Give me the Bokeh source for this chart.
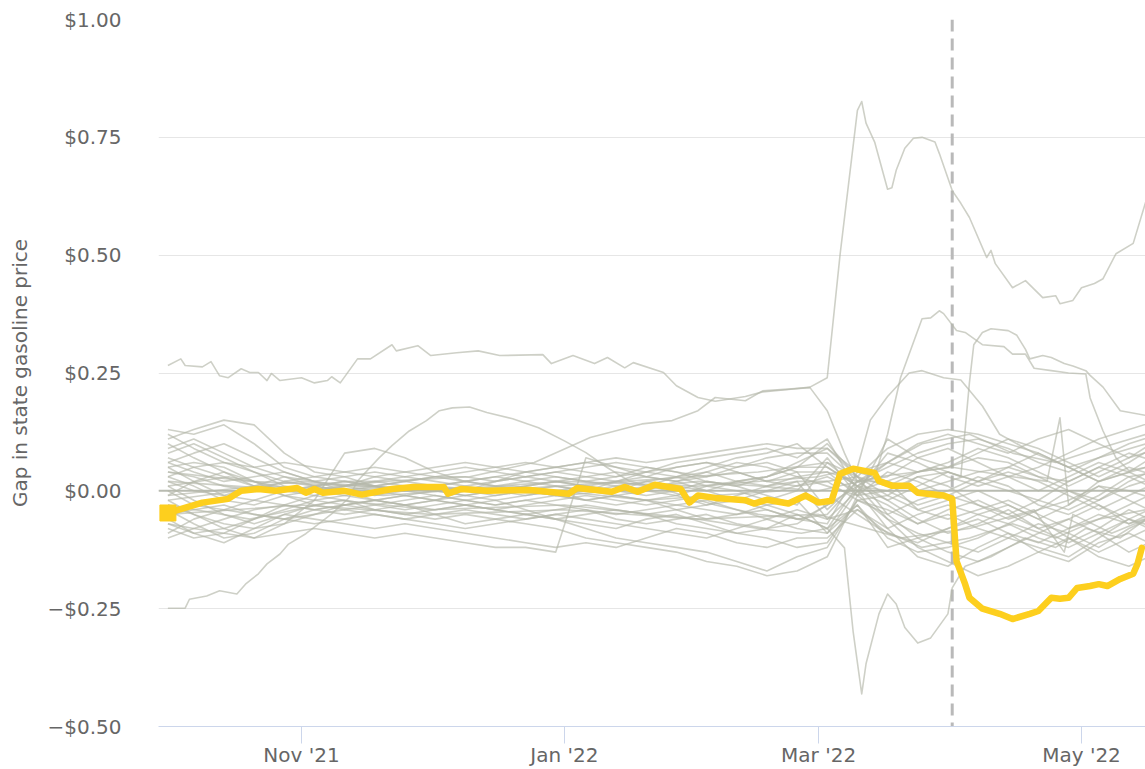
from datetime import datetime
import pandas as pd
from bokeh.plotting import figure
from bokeh.models import (Range1d, FixedTicker, DatetimeTickFormatter,
                          CustomJSTickFormatter, Span)
from bokeh.embed import file_html
from bokeh.resources import INLINE

# ---------------- data ----------------
weekly_dates = ["2021-10-01", "2021-10-07", "2021-10-14", "2021-10-21", "2021-10-28",
                "2021-11-04", "2021-11-11", "2021-11-18", "2021-11-25",
                "2021-12-02", "2021-12-09", "2021-12-16", "2021-12-23", "2021-12-30",
                "2022-01-06", "2022-01-13", "2022-01-20", "2022-01-27",
                "2022-02-03", "2022-02-10", "2022-02-17", "2022-02-24",
                "2022-03-03", "2022-03-10", "2022-03-17", "2022-03-24", "2022-03-31",
                "2022-04-07", "2022-04-14", "2022-04-21", "2022-04-28",
                "2022-05-05", "2022-05-12", "2022-05-19"]

state_01 = [0.13,0.12,0.14,0.10,0.05, 0.03,0.02,0.02,0.03, 0.02,0.01,0.02,0.03,0.04, 0.03,0.02,0.03,0.05, 0.06,0.05,0.07,0.08, 0.08,0.02,0.05,0.08,0.10, 0.11,0.09,0.06,0.04, 0.07,0.10,0.12]
state_02 = [0.11,0.13,0.15,0.14,0.08, 0.04,0.03,0.01,0.00, 0.01,0.02,0.03,0.02,0.01, 0.00,0.02,0.01,0.03, 0.04,0.02,0.03,0.06, 0.09,0.03,0.09,0.12,0.13, 0.12,0.10,0.08,0.05, 0.02,0.04,0.08]
state_03 = [0.08,0.10,0.07,0.04,0.02, 0.01,0.00,0.01,0.02, 0.03,0.03,0.02,0.04,0.05, 0.04,0.03,0.05,0.04, 0.02,0.01,0.03,0.05, 0.05,0.01,0.06,0.04,0.05, 0.07,0.06,0.03,0.02, 0.05,0.08,0.06]
state_04 = [0.06,0.04,0.02,0.03,0.04, 0.02,0.03,0.04,0.03, 0.04,0.05,0.04,0.03,0.04, 0.05,0.06,0.05,0.04, 0.03,0.05,0.06,0.04, -0.04,0.02,0.02,0.00,0.02, 0.04,0.05,0.03,0.00, -0.02,0.02,0.05]
state_05 = [0.05,0.06,0.05,0.02,0.00, -0.01,0.01,0.02,0.01, 0.00,-0.01,0.00,0.01,0.02, 0.01,0.00,0.02,0.01, 0.00,0.02,0.01,0.03, 0.04,-0.01,0.00,0.03,0.04, 0.02,0.00,-0.02,-0.04, -0.01,0.03,0.04]
state_06 = [0.03,0.01,-0.02,-0.03,-0.01, 0.00,-0.01,-0.02,-0.01, 0.00,0.01,0.00,-0.01,0.00, -0.02,-0.01,0.00,-0.01, -0.03,-0.02,0.00,0.02, -0.06,0.00,-0.08,-0.05,-0.03, -0.05,-0.07,-0.04,-0.02, 0.01,0.00,-0.02]
state_07 = [0.01,-0.02,-0.05,-0.07,-0.05, -0.03,-0.02,-0.03,-0.04, -0.03,-0.02,-0.03,-0.02,-0.01, -0.02,-0.03,-0.02,-0.03, -0.04,-0.05,-0.03,-0.02, -0.09,-0.03,-0.12,-0.10,-0.08, -0.06,-0.09,-0.11,-0.08, -0.05,-0.07,-0.04]
state_08 = [-0.02,-0.05,-0.08,-0.10,-0.07, -0.05,-0.04,-0.05,-0.06, -0.05,-0.04,-0.05,-0.06,-0.05, -0.04,-0.06,-0.07,-0.06, -0.05,-0.07,-0.08,-0.05, -0.08,0.01,-0.06,-0.09,-0.11, -0.13,-0.10,-0.12,-0.14, -0.10,-0.06,-0.03]
state_09 = [-0.04,-0.07,-0.10,-0.09,-0.06, -0.04,-0.03,-0.02,-0.03, -0.04,-0.03,-0.02,-0.04,-0.06, -0.08,-0.10,-0.11,-0.12, -0.13,-0.15,-0.17,-0.14, -0.12,-0.02,-0.04,-0.07,-0.05, -0.08,-0.10,-0.07,-0.09, -0.12,-0.08,-0.05]
state_10 = [-0.06,-0.09,-0.11,-0.08,-0.05, -0.06,-0.07,-0.08,-0.07, -0.08,-0.09,-0.10,-0.11,-0.12, -0.11,-0.12,-0.10,-0.08, -0.09,-0.11,-0.12,-0.10, -0.10,-0.04,-0.08,-0.14,-0.16, -0.12,-0.09,-0.13,-0.15, -0.11,-0.09,-0.12]
state_11 = [-0.08,-0.10,-0.09,-0.06,-0.04, -0.02,-0.01,0.00,0.01, 0.00,-0.01,-0.02,-0.01,0.00, 0.01,0.00,-0.01,0.00, 0.02,0.01,-0.01,-0.03, 0.06,0.03,-0.05,-0.02,0.00, 0.03,0.01,-0.03,-0.05, -0.02,0.01,0.03]
state_12 = [-0.10,-0.08,-0.06,-0.04,-0.03, -0.04,-0.05,-0.04,-0.03, -0.02,-0.03,-0.04,-0.03,-0.02, -0.01,-0.02,-0.03,-0.02, -0.01,-0.02,-0.04,-0.06, -0.07,0.04,0.02,-0.04,-0.06, -0.04,-0.02,-0.05,-0.08, -0.06,-0.03,0.00]
state_13 = [0.04,0.03,0.01,0.00,0.02, 0.03,0.04,0.05,0.04, 0.03,0.02,0.03,0.04,0.03, 0.02,0.01,0.02,0.03, 0.01,0.00,-0.02,0.00, 0.07,-0.01,0.11,0.07,0.05, 0.08,0.11,0.09,0.06, 0.03,0.06,0.10]
state_14 = [0.02,0.00,-0.01,0.01,0.03, 0.01,0.00,-0.01,0.00, 0.01,0.00,-0.01,0.00,0.01, 0.00,0.01,0.00,0.02, 0.03,0.04,0.02,0.01, 0.02,0.03,-0.01,-0.04,-0.02, 0.00,-0.03,-0.06,-0.03, 0.01,-0.02,-0.05]
state_15 = [0.00,-0.03,-0.04,-0.02,0.00, 0.01,0.02,0.01,0.00, -0.01,-0.02,-0.01,0.00,-0.01, -0.02,-0.01,-0.02,-0.04, -0.06,-0.05,-0.04,-0.06, -0.05,0.02,-0.02,-0.06,-0.09, -0.07,-0.04,-0.08,-0.11, -0.08,-0.04,-0.07]
state_16 = [-0.03,-0.05,-0.07,-0.08,-0.07, -0.02,0.08,0.09,0.07, 0.04,0.02,0.01,0.00,-0.01, 0.00,-0.01,-0.02,-0.01, 0.01,0.02,0.03,0.05, 0.10,0.03,0.01,0.04,0.06, 0.09,0.07,0.04,0.01, 0.04,0.07,0.09]
state_17 = [-0.07,-0.08,-0.09,-0.10,-0.09, -0.08,-0.09,-0.10,-0.09, -0.10,-0.11,-0.12,-0.12,-0.13, 0.07,0.05,0.03,0.02, 0.00,-0.02,-0.03,-0.05, -0.08,-0.03,-0.10,-0.13,-0.12, -0.10,-0.07,-0.10,-0.12, -0.09,-0.06,-0.08]
state_18 = [0.12,0.09,0.06,0.05,0.06, 0.05,0.04,0.03,0.04, 0.05,0.06,0.05,0.04,0.05, 0.06,0.05,0.04,0.06, 0.07,0.08,0.09,0.07, 0.11,0.00,0.08,0.06,0.03, 0.01,0.03,0.05,0.08, 0.11,0.13,0.15]
state_19 = [0.07,0.05,0.03,0.01,-0.01, -0.02,-0.03,-0.02,-0.01, -0.02,-0.03,-0.04,-0.05,-0.04, -0.03,-0.04,-0.05,-0.07, -0.08,-0.09,-0.08,-0.07, -0.03,0.01,0.00,-0.03,-0.01, 0.02,0.04,0.02,-0.01, -0.04,-0.01,0.02]
state_20 = [-0.05,-0.04,-0.03,-0.05,-0.06, -0.05,-0.03,-0.02,-0.03, -0.05,-0.07,-0.06,-0.05,-0.06, -0.07,-0.08,-0.06,-0.05, -0.07,-0.09,-0.10,-0.12, -0.11,-0.02,-0.05,-0.10,-0.13, -0.15,-0.12,-0.09,-0.06, -0.09,-0.13,-0.10]
state_21 = [0.09,0.11,0.08,0.05,0.03, 0.02,0.01,0.00,-0.01, -0.02,-0.01,0.00,0.01,0.02, 0.03,0.04,0.03,0.02, 0.04,0.06,0.05,0.03, 0.01,-0.01,0.04,0.02,-0.01, -0.03,-0.05,-0.02,0.02, 0.05,0.03,0.00]
state_22 = [-0.09,-0.06,-0.04,-0.05,-0.06, -0.07,-0.06,-0.05,-0.06, -0.07,-0.08,-0.07,-0.06,-0.05, -0.06,-0.07,-0.08,-0.09, -0.10,-0.08,-0.06,-0.04, -0.06,-0.04,-0.09,-0.11,-0.08, -0.05,-0.03,-0.06,-0.10, -0.13,-0.10,-0.07]
state_23 = [0.03,0.05,0.06,0.04,0.01, 0.00,0.01,0.03,0.02, 0.01,0.02,0.01,0.02,0.03, 0.02,0.03,0.04,0.05, 0.06,0.04,0.02,0.04, 0.04,0.02,0.03,0.07,0.09, 0.06,0.03,0.00,0.03, 0.06,0.04,0.01]
state_24 = [-0.01,0.02,0.04,0.02,-0.01, -0.03,-0.04,-0.03,-0.02, -0.01,-0.02,-0.03,-0.02,-0.03, -0.04,-0.05,-0.04,-0.03, -0.02,-0.04,-0.06,-0.08, -0.09,0.00,-0.03,-0.07,-0.04, -0.02,-0.05,-0.08,-0.06, -0.03,-0.06,-0.09]
state_25 = [0.05,0.02,-0.01,-0.02,-0.03, -0.04,-0.03,-0.04,-0.05, -0.06,-0.05,-0.06,-0.07,-0.08, -0.10,-0.11,-0.12,-0.13, -0.15,-0.16,-0.18,-0.17, -0.14,-0.01,-0.06,-0.12,-0.15, -0.18,-0.16,-0.13,-0.10, -0.14,-0.16,-0.13]
state_26 = [0.10,0.07,0.04,0.01,0.00, 0.01,0.02,0.01,0.02, 0.03,0.04,0.05,0.06,0.05, 0.06,0.07,0.06,0.07, 0.08,0.09,0.10,0.09, 0.09,0.04,0.06,0.10,0.12, 0.10,0.08,0.11,0.13, 0.10,0.07,0.11]
state_27 = [-0.07,-0.09,-0.08,-0.06,-0.03, -0.01,-0.02,-0.04,-0.05, -0.04,-0.03,-0.04,-0.05,-0.06, -0.05,-0.04,-0.05,-0.04, -0.03,-0.01,0.01,0.02, 0.02,-0.02,-0.01,0.03,0.01, -0.03,-0.06,-0.04,0.00, -0.03,-0.07,-0.05]
state_28 = [0.06,0.08,0.10,0.07,0.04, 0.02,0.00,-0.02,-0.03, -0.02,0.00,0.02,0.03,0.02, 0.01,0.02,0.04,0.03, 0.05,0.07,0.08,0.10, 0.05,0.01,-0.02,0.01,0.04, 0.02,0.05,0.08,0.05, 0.02,0.05,0.03]

# outlying states (own date samples)
outA_dates = ["2021-10-01","2021-10-04","2021-10-05","2021-10-09","2021-10-11","2021-10-13","2021-10-15",
              "2021-10-18","2021-10-20","2021-10-22","2021-10-24","2021-10-25","2021-10-27","2021-11-01",
              "2021-11-04","2021-11-07","2021-11-08","2021-11-10","2021-11-14","2021-11-17","2021-11-22",
              "2021-11-23","2021-11-28","2021-12-01","2021-12-07","2021-12-12","2021-12-17","2021-12-27",
              "2021-12-29","2022-01-03","2022-01-08","2022-01-11","2022-01-15","2022-01-17","2022-01-24",
              "2022-01-27","2022-02-01","2022-02-05","2022-02-12","2022-02-16","2022-02-22","2022-02-27",
              "2022-03-03","2022-03-06","2022-03-10","2022-03-11","2022-03-12","2022-03-14","2022-03-17",
              "2022-03-18","2022-03-19","2022-03-21","2022-03-23","2022-03-25","2022-03-28","2022-03-29",
              "2022-04-01","2022-04-03","2022-04-05","2022-04-09","2022-04-10","2022-04-11","2022-04-15",
              "2022-04-18","2022-04-22","2022-04-25","2022-04-26","2022-04-29","2022-05-01","2022-05-04",
              "2022-05-06","2022-05-09","2022-05-13","2022-05-16"]
outA_values = [0.266,0.28,0.266,0.263,0.274,0.244,0.24,
               0.259,0.251,0.251,0.234,0.249,0.234,0.24,
               0.229,0.234,0.242,0.229,0.28,0.28,0.31,
               0.297,0.308,0.287,0.293,0.297,0.287,0.289,
               0.27,0.287,0.27,0.283,0.261,0.272,0.251,
               0.223,0.198,0.19,0.2,0.21,0.215,0.22,
               0.24,0.503,0.807,0.826,0.78,0.74,0.64,
               0.643,0.68,0.727,0.748,0.75,0.74,0.716,
               0.637,0.61,0.58,0.495,0.51,0.482,0.431,
               0.446,0.41,0.414,0.397,0.404,0.431,0.44,
               0.45,0.503,0.525,0.616]

outB_dates = ["2021-10-01","2021-10-05","2021-10-06","2021-10-10","2021-10-13","2021-10-17","2021-10-19",
              "2021-10-22","2021-10-24","2021-10-27","2021-10-29","2021-11-02","2021-11-05","2021-11-08",
              "2021-11-12","2021-11-14","2021-11-19","2021-11-22","2021-11-26","2021-11-30","2021-12-03",
              "2021-12-06","2021-12-10","2021-12-14","2021-12-20","2021-12-26","2022-01-01","2022-01-06",
              "2022-01-11","2022-01-16","2022-01-25","2022-02-05","2022-02-15","2022-02-25","2022-03-05",
              "2022-03-15","2022-03-25","2022-04-05","2022-04-15","2022-04-25","2022-05-05","2022-05-16"]
outB_values = [-0.249,-0.249,-0.23,-0.223,-0.212,-0.219,-0.198,
               -0.176,-0.155,-0.134,-0.113,-0.091,-0.07,-0.049,
               -0.015,0.021,0.07,0.096,0.127,0.149,0.17,
               0.176,0.178,0.166,0.153,0.134,0.106,0.081,
               0.049,0.021,0.0,-0.03,-0.05,-0.06,-0.02,
               -0.08,-0.12,-0.1,-0.07,-0.1,-0.06,-0.04]

outC_dates = ["2021-10-01","2021-10-15","2021-11-01","2021-11-20","2021-12-10","2021-12-25","2022-01-07",
              "2022-01-19","2022-01-26","2022-02-01","2022-02-05","2022-02-12","2022-02-16","2022-02-27",
              "2022-03-03","2022-03-07","2022-03-10","2022-03-17","2022-03-25","2022-04-05","2022-04-15",
              "2022-04-25","2022-05-05","2022-05-16"]
outC_values = [0.01,0.03,0.0,0.02,0.03,0.06,0.113,
               0.142,0.149,0.17,0.198,0.191,0.212,0.219,
               0.17,0.08,0.02,0.06,0.1,0.12,0.08,
               0.06,0.09,0.12]

outD_dates = ["2021-10-01","2021-10-20","2021-11-10","2021-12-01","2022-01-01","2022-02-01","2022-02-15",
              "2022-02-25","2022-03-03","2022-03-07","2022-03-09","2022-03-11","2022-03-12","2022-03-15",
              "2022-03-17","2022-03-19","2022-03-21","2022-03-24","2022-03-27","2022-03-31","2022-04-01",
              "2022-04-04","2022-04-10","2022-04-18","2022-04-25","2022-05-02","2022-05-10","2022-05-16"]
outD_values = [-0.03,-0.06,-0.02,-0.04,-0.03,-0.06,-0.08,
               -0.09,-0.08,-0.121,-0.298,-0.431,-0.367,-0.261,
               -0.219,-0.24,-0.29,-0.323,-0.312,-0.261,-0.206,
               -0.16,-0.14,-0.1,-0.12,-0.08,-0.1,-0.06]

outE_dates = ["2021-10-01","2021-10-20","2021-11-15","2021-12-15","2022-01-15","2022-02-15","2022-03-03",
              "2022-03-10","2022-03-14","2022-03-17","2022-03-20","2022-03-25","2022-03-27","2022-03-29",
              "2022-03-30","2022-04-02","2022-04-04","2022-04-08","2022-04-13","2022-04-15","2022-04-18",
              "2022-04-20","2022-04-24","2022-04-28","2022-05-02","2022-05-03","2022-05-06","2022-05-09",
              "2022-05-12","2022-05-16"]
outE_values = [0.04,0.02,0.01,0.0,0.02,0.04,0.06,
               0.01,0.03,0.12,0.24,0.365,0.367,0.382,
               0.376,0.34,0.336,0.31,0.306,0.29,0.29,
               0.26,0.255,0.25,0.248,0.197,0.127,0.07,
               0.043,0.05]

outF_dates = ["2021-10-01","2021-10-25","2021-11-20","2021-12-20","2022-01-20","2022-02-20","2022-03-03",
              "2022-03-10","2022-03-20","2022-03-28","2022-04-03","2022-04-05","2022-04-06","2022-04-08",
              "2022-04-10","2022-04-14","2022-04-16","2022-04-18","2022-04-19","2022-04-22","2022-04-24",
              "2022-04-27","2022-04-29","2022-05-02","2022-05-03","2022-05-06","2022-05-10","2022-05-16"]
outF_values = [-0.02,0.01,-0.01,0.01,-0.02,0.0,0.03,
               0.0,0.03,0.05,0.03,0.23,0.31,0.336,
               0.344,0.34,0.33,0.30,0.28,0.287,0.283,
               0.27,0.265,0.255,0.245,0.22,0.17,0.16]

outG_dates = ["2021-10-01","2021-11-01","2021-12-01","2022-01-01","2022-02-01","2022-03-01","2022-03-10",
              "2022-03-13","2022-03-17","2022-03-22","2022-03-25","2022-03-30","2022-04-03","2022-04-08",
              "2022-04-12","2022-04-20","2022-04-28","2022-05-05","2022-05-16"]
outG_values = [-0.01,0.02,0.0,0.02,0.01,0.03,0.05,
               0.15,0.2,0.25,0.255,0.24,0.235,0.18,
               0.12,0.08,0.05,0.07,0.1]

outH_dates = ["2021-10-01","2021-11-01","2021-12-01","2022-01-01","2022-02-01","2022-03-01","2022-03-15",
              "2022-04-01","2022-04-15","2022-04-23","2022-04-26","2022-04-28","2022-05-05","2022-05-16"]
outH_values = [0.02,0.0,0.01,-0.01,0.02,0.0,0.03,
               0.05,0.03,0.02,0.155,-0.03,0.02,0.05]

outI_dates = ["2021-10-01","2021-11-01","2021-12-01","2022-01-01","2022-02-01","2022-03-01","2022-03-20",
              "2022-04-05","2022-04-20","2022-04-27","2022-04-29","2022-05-08","2022-05-16"]
outI_values = [-0.05,-0.03,-0.05,-0.04,-0.06,-0.05,-0.1,
               -0.08,-0.04,-0.13,-0.05,-0.09,-0.06]

# highlighted state
hl_dates = ["2021-10-01","2021-10-09","2021-10-15","2021-10-18","2021-10-22","2021-10-26","2021-10-31",
            "2021-11-02","2021-11-04","2021-11-06","2021-11-11","2021-11-15","2021-11-22","2021-11-27",
            "2021-12-04","2021-12-05","2021-12-08","2021-12-14","2021-12-24","2022-01-02","2022-01-04",
            "2022-01-12","2022-01-15","2022-01-18","2022-01-22","2022-01-28","2022-01-30","2022-02-01",
            "2022-02-05","2022-02-12","2022-02-14","2022-02-17","2022-02-22","2022-02-26","2022-03-01",
            "2022-03-04","2022-03-06","2022-03-09","2022-03-14","2022-03-15","2022-03-18","2022-03-22",
            "2022-03-24","2022-03-30","2022-04-01","2022-04-02","2022-04-04","2022-04-05","2022-04-08",
            "2022-04-12","2022-04-15","2022-04-19","2022-04-21","2022-04-24","2022-04-26","2022-04-28",
            "2022-04-30","2022-05-03","2022-05-05","2022-05-07","2022-05-10","2022-05-13","2022-05-14",
            "2022-05-15"]
hl_values = [-0.047,-0.025,-0.017,0.0,0.004,0.0,0.006,
             -0.004,0.004,-0.004,0.0,-0.008,0.004,0.008,
             0.008,-0.006,0.004,0.0,0.002,-0.006,0.006,
             -0.002,0.008,-0.002,0.013,0.004,-0.025,-0.01,
             -0.015,-0.02,-0.027,-0.019,-0.027,-0.01,-0.025,
             -0.021,0.036,0.047,0.038,0.021,0.011,0.011,
             -0.004,-0.01,-0.017,-0.149,-0.198,-0.227,-0.25,
             -0.261,-0.272,-0.261,-0.255,-0.227,-0.229,-0.227,
             -0.206,-0.202,-0.198,-0.202,-0.187,-0.176,-0.155,
             -0.121]

event_date = "2022-04-01"
x_tick_dates = ["2021-11-01", "2022-01-01", "2022-03-01", "2022-05-01"]
y_ticks = [-0.5, -0.25, 0.0, 0.25, 0.5, 0.75, 1.0]

# ---------------- figure ----------------
FONT = "DejaVu Sans"
TXT = "#666666"
GREY = "#b3b7a9"
YELLOW = "#fdcf1e"


def ms(s):
    return pd.Timestamp(s).value / 1e6


nov1 = ms("2021-11-01")
px_per_day = 780.0 / 181.0
day_ms = 86400000.0
x_start = nov1 - (143.0 / px_per_day) * day_ms
x_end = nov1 + (844.0 / px_per_day) * day_ms

p = figure(width=1145, height=769, x_axis_type="datetime",
           x_range=Range1d(x_start, x_end), y_range=Range1d(-0.5, 1.0),
           output_backend="svg", toolbar_location=None,
           min_border_left=158, min_border_right=0,
           min_border_top=19, min_border_bottom=43)
p.outline_line_color = None
p.background_fill_color = "white"
p.border_fill_color = "white"

p.xgrid.visible = False
p.ygrid.grid_line_color = "#e6e6e6"
p.ygrid.grid_line_width = 1

# y axis
p.yaxis.ticker = FixedTicker(ticks=y_ticks)
p.yaxis.formatter = CustomJSTickFormatter(
    code="const s = '$' + Math.abs(tick).toFixed(2); return tick < 0 ? '\u2212' + s : s;")
p.yaxis.axis_line_color = None
p.yaxis.major_tick_line_color = None
p.yaxis.minor_tick_line_color = None
p.yaxis.major_label_standoff = 31
p.yaxis.major_label_text_font = FONT
p.yaxis.major_label_text_font_size = "20px"
p.yaxis.major_label_text_color = TXT
p.yaxis.axis_label = "Gap in state gasoline price"
p.yaxis.axis_label_text_font = FONT
p.yaxis.axis_label_text_font_size = "20px"
p.yaxis.axis_label_text_font_style = "normal"
p.yaxis.axis_label_text_color = TXT
p.yaxis.axis_label_standoff = 12

# x axis
p.xaxis.ticker = FixedTicker(ticks=[ms(t) for t in x_tick_dates])
fmt = "%b '%y"
p.xaxis.formatter = DatetimeTickFormatter(
    microseconds=fmt, milliseconds=fmt, seconds=fmt, minsec=fmt, minutes=fmt,
    hourmin=fmt, hours=fmt, days=fmt, months=fmt, years=fmt)
p.xaxis.axis_line_color = "#ccd6eb"
p.xaxis.axis_line_width = 1
p.xaxis.major_tick_line_color = "#ccd6eb"
p.xaxis.major_tick_line_width = 1
p.xaxis.major_tick_out = 17
p.xaxis.major_tick_in = 0
p.xaxis.minor_tick_line_color = None
p.xaxis.major_label_standoff = -1
p.xaxis.major_label_text_font = FONT
p.xaxis.major_label_text_font_size = "20px"
p.xaxis.major_label_text_color = TXT

# zero line and event line
p.add_layout(Span(location=0, dimension="width", line_color="#b8bbb1",
                  line_width=2, level="underlay"))
p.add_layout(Span(location=ms(event_date), dimension="height", line_color="#b9b9b9",
                  line_width=3, line_dash="12 7", level="underlay"))

wd = pd.to_datetime(weekly_dates)
cluster = [state_01, state_02, state_03, state_04, state_05, state_06, state_07,
           state_08, state_09, state_10, state_11, state_12, state_13, state_14,
           state_15, state_16, state_17, state_18, state_19, state_20, state_21,
           state_22, state_23, state_24, state_25, state_26, state_27, state_28]
for vals in cluster:
    p.line(wd, vals, line_color=GREY, line_alpha=0.65, line_width=1.6, line_join="round")

outliers = [(outA_dates, outA_values), (outB_dates, outB_values), (outC_dates, outC_values),
            (outD_dates, outD_values), (outE_dates, outE_values), (outF_dates, outF_values),
            (outG_dates, outG_values), (outH_dates, outH_values), (outI_dates, outI_values)]
for ds, vs in outliers:
    p.line(pd.to_datetime(ds), vs, line_color=GREY, line_alpha=0.65, line_width=1.6,
           line_join="round")

hd = pd.to_datetime(hl_dates)
p.line(hd, hl_values, line_color=YELLOW, line_width=6.5, line_join="round", line_cap="round")
p.scatter(hd[:1], hl_values[:1], marker="square", size=16, fill_color=YELLOW,
          line_color=YELLOW)

open("out.html", "w").write(file_html(p, INLINE))
